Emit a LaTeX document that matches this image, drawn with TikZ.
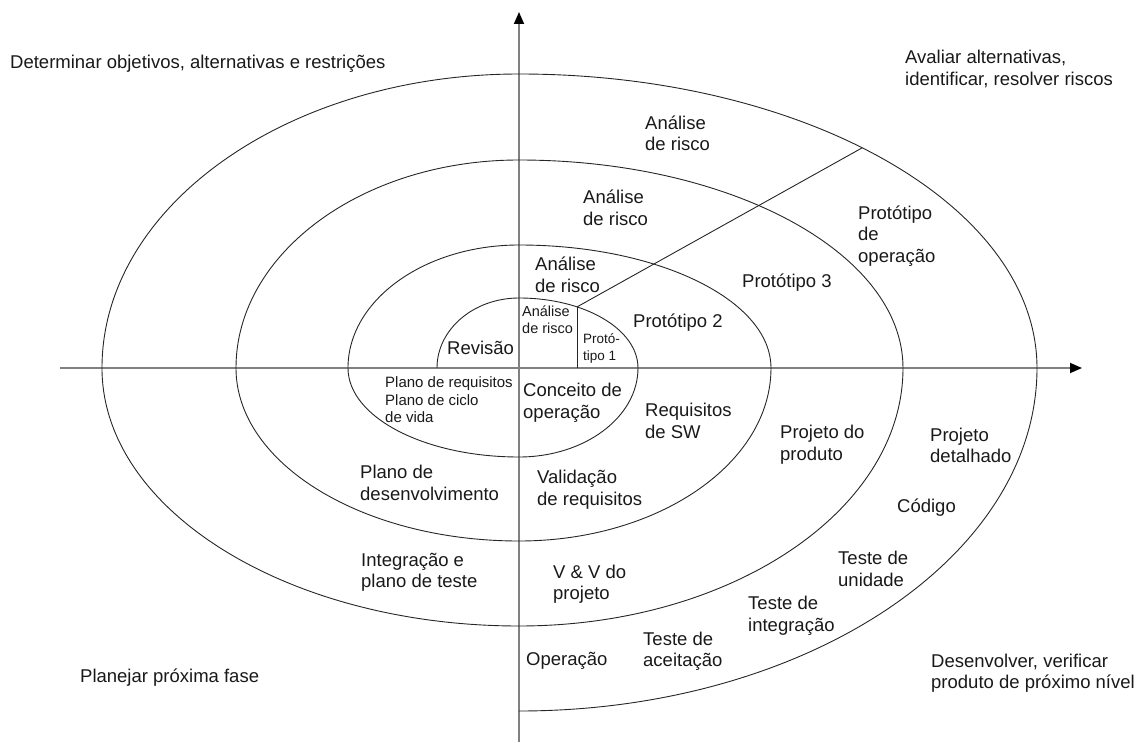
\documentclass[tikz,border=0pt]{standalone}
\usepackage{fontspec}
\setmainfont{Liberation Sans}
\usetikzlibrary{arrows.meta}
\begin{document}
\begin{tikzpicture}[x=1pt,y=1pt,
  lbl/.style={anchor=west, align=left, inner sep=0pt, text=black!90, font=\fontsize{18.5}{21.5}\selectfont},
  sml/.style={anchor=west, align=left, inner sep=0pt, text=black!90, font=\fontsize{14.5}{17}\selectfont},
  axisline/.style={draw=black!50, line width=1.6pt, -{Triangle[length=12pt,width=10pt,color=black]}},
  spiral/.style={draw=black!85, line width=0.9pt}]
\useasboundingbox (-519,-374) rectangle (627,368);
\coordinate (O) at (0,0);
\coordinate (xs) at (-459,0);
\coordinate (xe) at (563,0);
\coordinate (ys) at (0,-374);
\coordinate (ye) at (0,356);
\draw[axisline] (xs) -- (xe);
\draw[axisline] (ys) -- (ye);
% spiral
\coordinate (sp0) at (-82,0);
\draw[spiral] (sp0)
  arc[start angle=180, end angle=90, x radius=82pt, y radius=70pt]
  arc[start angle=90, end angle=0, x radius=119pt, y radius=70pt]
  arc[start angle=0, end angle=-90, x radius=119pt, y radius=89pt]
  arc[start angle=-90, end angle=-180, x radius=171pt, y radius=89pt]
  arc[start angle=180, end angle=90, x radius=171pt, y radius=123pt]
  arc[start angle=90, end angle=0, x radius=252pt, y radius=123pt]
  arc[start angle=0, end angle=-90, x radius=252pt, y radius=173pt]
  arc[start angle=-90, end angle=-180, x radius=283pt, y radius=173pt]
  arc[start angle=180, end angle=90, x radius=283pt, y radius=208pt]
  arc[start angle=90, end angle=0, x radius=384pt, y radius=208pt]
  arc[start angle=0, end angle=-90, x radius=384pt, y radius=258pt]
  arc[start angle=-90, end angle=-180, x radius=417pt, y radius=258pt]
  arc[start angle=180, end angle=90, x radius=417pt, y radius=294pt]
  arc[start angle=90, end angle=0, x radius=518pt, y radius=294pt]
  arc[start angle=0, end angle=-90, x radius=518pt, y radius=343pt];
% dividers
\coordinate (p1) at (60.8:119 and 70);
\coordinate (p1b) at (p1 |- O);
\coordinate (p2) at (48.5:518 and 294);
\draw[spiral] (p1) -- (p1b);
\draw[spiral] (p1) -- (p2);
% labels
\node[lbl] (q1) at (-509,304) {Determinar objetivos, alternativas e restrições};
\node[lbl] (q2) at (386,299) {Avaliar alternativas,\\identificar, resolver riscos};
\node[lbl] (ar4) at (126,234.5) {Análise\\de risco};
\node[lbl] (ar3) at (64,160) {Análise\\de risco};
\node[lbl] (ar2) at (16,93) {Análise\\de risco};
\node[sml] (ar1) at (3,48.5) {Análise\\de risco};
\node[sml, font=\fontsize{13.5}{17}\selectfont] (pt1) at (64,19.5) {Protó-\\tipo 1};
\node[lbl] (pt2) at (114,45) {Protótipo 2};
\node[lbl] (pt3) at (223,85) {Protótipo 3};
\node[lbl] (pto) at (339,132) {Protótipo\\de\\operação};
\node[lbl] (rev) at (-72,20) {Revisão};
\node[sml, font=\fontsize{15}{17.5}\selectfont] (plr) at (-134,-32) {Plano de requisitos\\Plano de ciclo\\de vida};
\node[lbl] (con) at (4,-35) {Conceito de\\operação};
\node[lbl] (req) at (126,-53) {Requisitos\\de SW};
\node[lbl] (pjp) at (261,-76.5) {Projeto do\\produto};
\node[lbl] (pjd) at (411,-77.5) {Projeto\\detalhado};
\node[lbl] (cod) at (378,-140) {Código};
\node[lbl] (tun) at (319,-201) {Teste de\\unidade};
\node[lbl] (tin) at (229,-248) {Teste de\\integração};
\node[lbl] (tac) at (124,-283.5) {Teste de\\aceitação};
\node[lbl] (ope) at (7,-293) {Operação};
\node[lbl] (vv) at (34,-216) {V \& V do\\projeto};
\node[lbl] (val) at (18,-121.5) {Validação\\de requisitos};
\node[lbl] (pdes) at (-159,-115) {Plano de\\desenvolvimento};
\node[lbl] (int) at (-158,-204.5) {Integração e\\plano de teste};
\node[lbl] (q3) at (-439,-310) {Planejar próxima fase};
\node[lbl] (q4) at (412,-305) {Desenvolver, verificar\\produto de próximo nível};
\end{tikzpicture}
\end{document}
